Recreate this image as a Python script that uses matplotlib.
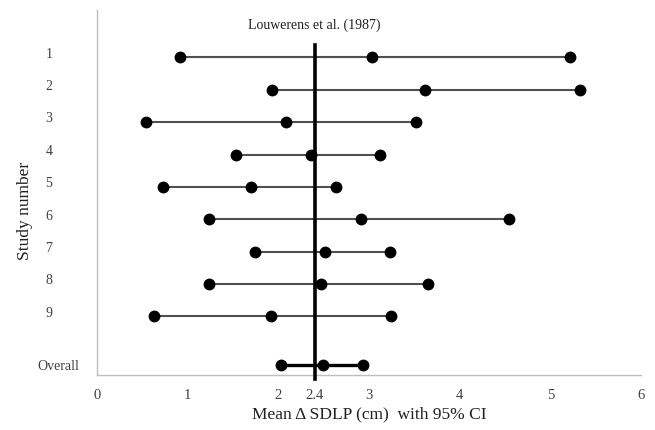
import numpy as np
import matplotlib
matplotlib.use("Agg")
import matplotlib.pyplot as plt
from matplotlib.transforms import blended_transform_factory

plt.rcParams['font.family'] = ['Liberation Serif', 'DejaVu Serif']

# study rows (Overall sits 1.5 rows below study 9)
studies  = ["1", "2", "3", "4", "5", "6", "7", "8", "9", "Overall"]
row_pos  = [1, 2, 3, 4, 5, 6, 7, 8, 9, 10.5]
ci_low   = [0.92, 1.93, 0.54, 1.53, 0.73, 1.24, 1.74, 1.24, 0.63, 2.03]
mean_d   = [3.03, 3.62, 2.08, 2.36, 1.70, 2.91, 2.51, 2.47, 1.92, 2.49]
ci_high  = [5.22, 5.33, 3.52, 3.12, 2.63, 4.54, 3.23, 3.65, 3.24, 2.93]

ref_value = 2.4
ref_label = "Louwerens et al. (1987)"
x_ticks   = [0, 1, 2, 3, 4, 5, 6]

GREY_TXT = "#404040"

fig = plt.figure(figsize=(6.55, 4.30), dpi=100)
ax = fig.add_axes([0.148, 0.128, 0.831, 0.849])

for i, (lo, m, hi, y) in enumerate(zip(ci_low, mean_d, ci_high, row_pos)):
    overall = studies[i] == "Overall"
    ax.plot([lo, hi], [y, y], color="black" if overall else "#505050",
            lw=2.4 if overall else 1.5, zorder=2, solid_capstyle="butt")
    ax.plot([lo, m, hi], [y, y, y], "o", color="black", ms=7.5,
            mec="black", zorder=3)

# reference line
ax.plot([ref_value, ref_value], [0.6, 10.95], color="black", lw=2.6,
        zorder=4, clip_on=False)
ax.text(ref_value, 0.0, ref_label, ha="center", va="center",
        fontsize=10, color="#202020")

ax.set_xlim(0, 6)
ax.set_ylim(10.81, -0.47)

ax.set_xticks(x_ticks)
ax.set_xticklabels([str(t) for t in x_ticks], fontsize=10.5, color=GREY_TXT)
ax.tick_params(axis="x", length=0, pad=10)
ax.set_yticks([])

# extra tick label under the reference line
tr = blended_transform_factory(ax.transData, ax.transAxes)
ax.text(ref_value, -0.057, "2.4", transform=tr, ha="center", va="center",
        fontsize=10.5, color=GREY_TXT)

# study labels on the left
tr_y = blended_transform_factory(ax.transAxes, ax.transData)
for lab, y in zip(studies, row_pos):
    if lab == "Overall":
        ax.text(-0.11, y + 0.05, lab, transform=tr_y, ha="left", va="center",
                fontsize=10, color=GREY_TXT)
    else:
        ax.text(-0.088, y - 0.1, lab, transform=tr_y, ha="center",
                va="center", fontsize=10, color=GREY_TXT)

ax.set_xlabel("Mean \u0394 SDLP (cm)  with 95% CI", fontsize=12.5,
              color="#202020", labelpad=3)
fig.text(0.038, 0.51, "Study number", rotation=90, ha="center", va="center",
         fontsize=12.5, color="#202020")

for s in ["top", "right"]:
    ax.spines[s].set_visible(False)
for s in ["left", "bottom"]:
    ax.spines[s].set_color("#bfbfbf")
    ax.spines[s].set_linewidth(1.0)

fig.savefig("out.png", dpi=100)
